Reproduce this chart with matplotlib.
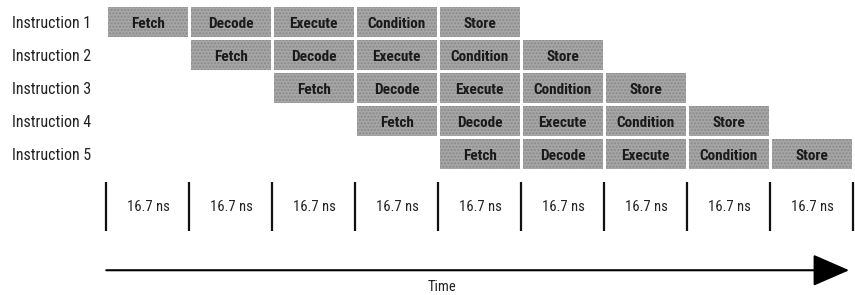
import matplotlib
matplotlib.use('Agg')
import matplotlib.pyplot as plt

plt.rcParams['font.family'] = ['Roboto Condensed', 'Liberation Sans Narrow', 'DejaVu Sans']
plt.rcParams['hatch.color'] = '#767676'

# data
instructions = ['Instruction 1', 'Instruction 2', 'Instruction 3', 'Instruction 4', 'Instruction 5']
stages = ['Fetch', 'Decode', 'Execute', 'Condition', 'Store']
start_cycle = [0, 1, 2, 3, 4]
cycle_labels = ['16.7 ns'] * 9
axis_label = 'Time'

fig = plt.figure(figsize=(8.55, 2.95), dpi=100)
ax = fig.add_axes([0, 0, 1, 1])
# x in clock cycles, y in rows
ax.set_xlim(-1.30, 9.0)
ax.set_ylim(8.27, -0.667)
ax.axis('off')

box_w = 0.96
box_h = 0.9
for i, name in enumerate(instructions):
    ax.text(-1.155, i, name, ha='left', va='center_baseline', fontsize=11.5, color='#222222')
    for k, st in enumerate(stages):
        c = start_cycle[i] + k
        ax.bar(c, box_h, width=box_w, bottom=i - box_h / 2, align='edge',
               color='#a6a6a6', edgecolor='#8a8a8a', hatch='.....', linewidth=0)
        ax.text(c + box_w / 2, i, st, ha='center', va='center_baseline', fontsize=11,
                fontweight='bold', color='#1a1a1a')

# clock cycle ruler
for c in range(len(cycle_labels) + 1):
    ax.plot([c - 0.02, c - 0.02], [4.85, 6.33], color='#111111', lw=1.6,
            solid_capstyle='butt')
for c, lab in enumerate(cycle_labels):
    ax.text(c + 0.49, 5.55, lab, ha='center', va='center_baseline', fontsize=10.5, color='#222222')

# time arrow
ax.annotate('', xy=(8.93, 7.52), xytext=(-0.02, 7.52),
            arrowprops=dict(arrowstyle='-|>,head_length=1.15,head_width=0.5',
                            mutation_scale=20, lw=1.5, color='black',
                            shrinkA=0, shrinkB=0))
ax.text(4.03, 7.98, axis_label, ha='center', va='center_baseline', fontsize=10.5, color='#222222')

fig.savefig('out.png', dpi=100)
